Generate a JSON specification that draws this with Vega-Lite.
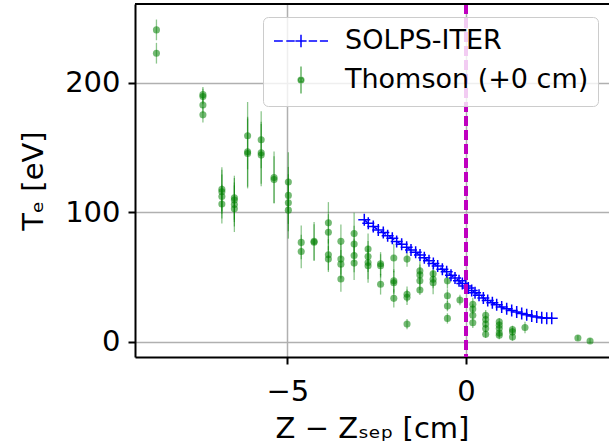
{
  "$schema": "https://vega.github.io/schema/vega-lite/v6.json",
  "width": 474,
  "height": 353,
  "autosize": {"type": "none"},
  "padding": {"left": 135, "top": 4, "right": 0, "bottom": 89},
  "background": "white",
  "config": {
    "view": {"stroke": null},
    "font": "DejaVu Sans",
    "axis": {
      "labelFont": "DejaVu Sans",
      "labelFontSize": 29,
      "labelColor": "black",
      "titleFont": "DejaVu Sans",
      "titleFontSize": 29,
      "titleFontWeight": "normal",
      "titleColor": "black",
      "domainColor": "black",
      "domainWidth": 2,
      "tickColor": "black",
      "tickWidth": 2,
      "tickSize": 7,
      "gridColor": "#b0b0b0",
      "gridWidth": 1.5,
      "gridOpacity": 1
    }
  },
  "data": {
    "values": [
      {"series": "Thomson (+0 cm)", "z": -8.66, "te": 241, "err": 8},
      {"series": "Thomson (+0 cm)", "z": -8.66, "te": 223, "err": 8},
      {"series": "Thomson (+0 cm)", "z": -7.36, "te": 191, "err": 6},
      {"series": "Thomson (+0 cm)", "z": -7.36, "te": 189.6, "err": 6},
      {"series": "Thomson (+0 cm)", "z": -7.36, "te": 183, "err": 6},
      {"series": "Thomson (+0 cm)", "z": -7.36, "te": 175.4, "err": 6},
      {"series": "Thomson (+0 cm)", "z": -6.83, "te": 118, "err": 17},
      {"series": "Thomson (+0 cm)", "z": -6.83, "te": 116, "err": 17},
      {"series": "Thomson (+0 cm)", "z": -6.83, "te": 112.4, "err": 17},
      {"series": "Thomson (+0 cm)", "z": -6.83, "te": 106.5, "err": 15},
      {"series": "Thomson (+0 cm)", "z": -6.48, "te": 111.4, "err": 17},
      {"series": "Thomson (+0 cm)", "z": -6.48, "te": 109.6, "err": 17},
      {"series": "Thomson (+0 cm)", "z": -6.48, "te": 106.2, "err": 17},
      {"series": "Thomson (+0 cm)", "z": -6.48, "te": 102.9, "err": 18},
      {"series": "Thomson (+0 cm)", "z": -6.11, "te": 159.3, "err": 26},
      {"series": "Thomson (+0 cm)", "z": -6.11, "te": 146.9, "err": 27},
      {"series": "Thomson (+0 cm)", "z": -6.11, "te": 145.6, "err": 27},
      {"series": "Thomson (+0 cm)", "z": -5.73, "te": 156.2, "err": 22},
      {"series": "Thomson (+0 cm)", "z": -5.73, "te": 146.1, "err": 24},
      {"series": "Thomson (+0 cm)", "z": -5.73, "te": 144.3, "err": 24},
      {"series": "Thomson (+0 cm)", "z": -5.37, "te": 127, "err": 20},
      {"series": "Thomson (+0 cm)", "z": -5.37, "te": 125.4, "err": 18},
      {"series": "Thomson (+0 cm)", "z": -4.97, "te": 123.5, "err": 23},
      {"series": "Thomson (+0 cm)", "z": -4.97, "te": 113.2, "err": 22},
      {"series": "Thomson (+0 cm)", "z": -4.97, "te": 107.5, "err": 22},
      {"series": "Thomson (+0 cm)", "z": -4.97, "te": 101.8, "err": 22},
      {"series": "Thomson (+0 cm)", "z": -4.61, "te": 76.9, "err": 13},
      {"series": "Thomson (+0 cm)", "z": -4.61, "te": 69.9, "err": 13},
      {"series": "Thomson (+0 cm)", "z": -4.25, "te": 77.7, "err": 15},
      {"series": "Thomson (+0 cm)", "z": -4.25, "te": 77.0, "err": 14},
      {"series": "Thomson (+0 cm)", "z": -3.85, "te": 92, "err": 16},
      {"series": "Thomson (+0 cm)", "z": -3.85, "te": 84.7, "err": 14},
      {"series": "Thomson (+0 cm)", "z": -3.85, "te": 67.4, "err": 12},
      {"series": "Thomson (+0 cm)", "z": -3.85, "te": 64, "err": 10},
      {"series": "Thomson (+0 cm)", "z": -3.5, "te": 77.7, "err": 13},
      {"series": "Thomson (+0 cm)", "z": -3.5, "te": 64, "err": 12},
      {"series": "Thomson (+0 cm)", "z": -3.5, "te": 60.1, "err": 11},
      {"series": "Thomson (+0 cm)", "z": -3.5, "te": 48.7, "err": 10},
      {"series": "Thomson (+0 cm)", "z": -3.13, "te": 83.7, "err": 16},
      {"series": "Thomson (+0 cm)", "z": -3.13, "te": 75.7, "err": 14},
      {"series": "Thomson (+0 cm)", "z": -3.13, "te": 66.8, "err": 13},
      {"series": "Thomson (+0 cm)", "z": -3.13, "te": 60.9, "err": 13},
      {"series": "Thomson (+0 cm)", "z": -2.74, "te": 71.8, "err": 12},
      {"series": "Thomson (+0 cm)", "z": -2.74, "te": 66, "err": 12},
      {"series": "Thomson (+0 cm)", "z": -2.74, "te": 61.4, "err": 13},
      {"series": "Thomson (+0 cm)", "z": -2.74, "te": 58.8, "err": 13},
      {"series": "Thomson (+0 cm)", "z": -2.39, "te": 60.4, "err": 9},
      {"series": "Thomson (+0 cm)", "z": -2.39, "te": 58.8, "err": 9},
      {"series": "Thomson (+0 cm)", "z": -2.39, "te": 44.6, "err": 8},
      {"series": "Thomson (+0 cm)", "z": -2.02, "te": 64.8, "err": 11},
      {"series": "Thomson (+0 cm)", "z": -2.02, "te": 47.2, "err": 9},
      {"series": "Thomson (+0 cm)", "z": -2.02, "te": 45.8, "err": 9},
      {"series": "Thomson (+0 cm)", "z": -2.02, "te": 33.7, "err": 7},
      {"series": "Thomson (+0 cm)", "z": -1.65, "te": 64, "err": 6},
      {"series": "Thomson (+0 cm)", "z": -1.65, "te": 36.8, "err": 6},
      {"series": "Thomson (+0 cm)", "z": -1.65, "te": 34.5, "err": 6},
      {"series": "Thomson (+0 cm)", "z": -1.65, "te": 13.8, "err": 4},
      {"series": "Thomson (+0 cm)", "z": -1.29, "te": 54.9, "err": 10},
      {"series": "Thomson (+0 cm)", "z": -1.29, "te": 51.8, "err": 8},
      {"series": "Thomson (+0 cm)", "z": -1.29, "te": 47.2, "err": 7},
      {"series": "Thomson (+0 cm)", "z": -1.29, "te": 40.2, "err": 4},
      {"series": "Thomson (+0 cm)", "z": -0.92, "te": 52.6, "err": 5},
      {"series": "Thomson (+0 cm)", "z": -0.92, "te": 48.5, "err": 7},
      {"series": "Thomson (+0 cm)", "z": -0.92, "te": 45.8, "err": 9},
      {"series": "Thomson (+0 cm)", "z": -0.52, "te": 47.2, "err": 6},
      {"series": "Thomson (+0 cm)", "z": -0.52, "te": 35.7, "err": 5},
      {"series": "Thomson (+0 cm)", "z": -0.52, "te": 27.7, "err": 4},
      {"series": "Thomson (+0 cm)", "z": -0.52, "te": 18.2, "err": 4},
      {"series": "Thomson (+0 cm)", "z": -0.17, "te": 32.4, "err": 4},
      {"series": "Thomson (+0 cm)", "z": 0.19, "te": 29.1, "err": 5},
      {"series": "Thomson (+0 cm)", "z": 0.19, "te": 25.4, "err": 4},
      {"series": "Thomson (+0 cm)", "z": 0.19, "te": 20.7, "err": 4},
      {"series": "Thomson (+0 cm)", "z": 0.19, "te": 14.8, "err": 4},
      {"series": "Thomson (+0 cm)", "z": 0.55, "te": 20.7, "err": 4},
      {"series": "Thomson (+0 cm)", "z": 0.55, "te": 17.4, "err": 3},
      {"series": "Thomson (+0 cm)", "z": 0.55, "te": 13.8, "err": 3},
      {"series": "Thomson (+0 cm)", "z": 0.55, "te": 10.4, "err": 3},
      {"series": "Thomson (+0 cm)", "z": 0.55, "te": 6, "err": 3},
      {"series": "Thomson (+0 cm)", "z": 0.93, "te": 15.5, "err": 3},
      {"series": "Thomson (+0 cm)", "z": 0.93, "te": 13, "err": 3},
      {"series": "Thomson (+0 cm)", "z": 0.93, "te": 10.4, "err": 3},
      {"series": "Thomson (+0 cm)", "z": 0.93, "te": 7, "err": 3},
      {"series": "Thomson (+0 cm)", "z": 0.93, "te": 5.2, "err": 3},
      {"series": "Thomson (+0 cm)", "z": 1.3, "te": 9.6, "err": 3},
      {"series": "Thomson (+0 cm)", "z": 1.3, "te": 7.8, "err": 3},
      {"series": "Thomson (+0 cm)", "z": 1.3, "te": 3.9, "err": 3},
      {"series": "Thomson (+0 cm)", "z": 1.65, "te": 11.2, "err": 4.5},
      {"series": "Thomson (+0 cm)", "z": 3.13, "te": 3.1, "err": 2},
      {"series": "Thomson (+0 cm)", "z": 3.47, "te": 0.8, "err": 2},
      {"series": "SOLPS-ITER", "z": -2.846, "te": 94.3},
      {"series": "SOLPS-ITER", "z": -2.734, "te": 91.7},
      {"series": "SOLPS-ITER", "z": -2.594, "te": 89.1},
      {"series": "SOLPS-ITER", "z": -2.454, "te": 86.5},
      {"series": "SOLPS-ITER", "z": -2.314, "te": 84.5},
      {"series": "SOLPS-ITER", "z": -2.192, "te": 82.1},
      {"series": "SOLPS-ITER", "z": -2.062, "te": 80.1},
      {"series": "SOLPS-ITER", "z": -1.94, "te": 77.5},
      {"series": "SOLPS-ITER", "z": -1.8, "te": 75.4},
      {"series": "SOLPS-ITER", "z": -1.661, "te": 73.1},
      {"series": "SOLPS-ITER", "z": -1.539, "te": 71.0},
      {"series": "SOLPS-ITER", "z": -1.409, "te": 69.2},
      {"series": "SOLPS-ITER", "z": -1.287, "te": 67.1},
      {"series": "SOLPS-ITER", "z": -1.166, "te": 65.0},
      {"series": "SOLPS-ITER", "z": -1.036, "te": 62.7},
      {"series": "SOLPS-ITER", "z": -0.914, "te": 60.6},
      {"series": "SOLPS-ITER", "z": -0.793, "te": 58.6},
      {"series": "SOLPS-ITER", "z": -0.662, "te": 56.2},
      {"series": "SOLPS-ITER", "z": -0.541, "te": 54.2},
      {"series": "SOLPS-ITER", "z": -0.42, "te": 51.6},
      {"series": "SOLPS-ITER", "z": -0.308, "te": 49.5},
      {"series": "SOLPS-ITER", "z": -0.196, "te": 47.2},
      {"series": "SOLPS-ITER", "z": -0.103, "te": 45.1},
      {"series": "SOLPS-ITER", "z": -0.009, "te": 43.3},
      {"series": "SOLPS-ITER", "z": 0.065, "te": 41.7},
      {"series": "SOLPS-ITER", "z": 0.159, "te": 39.7},
      {"series": "SOLPS-ITER", "z": 0.252, "te": 38.1},
      {"series": "SOLPS-ITER", "z": 0.364, "te": 36.0},
      {"series": "SOLPS-ITER", "z": 0.485, "te": 34.0},
      {"series": "SOLPS-ITER", "z": 0.607, "te": 32.1},
      {"series": "SOLPS-ITER", "z": 0.737, "te": 30.3},
      {"series": "SOLPS-ITER", "z": 0.858, "te": 28.8},
      {"series": "SOLPS-ITER", "z": 0.998, "te": 27.0},
      {"series": "SOLPS-ITER", "z": 1.138, "te": 25.7},
      {"series": "SOLPS-ITER", "z": 1.278, "te": 24.4},
      {"series": "SOLPS-ITER", "z": 1.418, "te": 23.1},
      {"series": "SOLPS-ITER", "z": 1.558, "te": 22.0},
      {"series": "SOLPS-ITER", "z": 1.698, "te": 21.0},
      {"series": "SOLPS-ITER", "z": 1.838, "te": 20.0},
      {"series": "SOLPS-ITER", "z": 1.978, "te": 19.2},
      {"series": "SOLPS-ITER", "z": 2.118, "te": 18.7},
      {"series": "SOLPS-ITER", "z": 2.258, "te": 18.4},
      {"series": "SOLPS-ITER", "z": 2.398, "te": 18.4}
    ]
  },
  "layer": [
    {
      "transform": [{"filter": "datum.series === 'Thomson (+0 cm)'"}],
      "mark": {"type": "point", "filled": true, "opacity": 0},
      "encoding": {
        "x": {
          "field": "z", "type": "quantitative",
          "scale": {"domain": [-9.26, 4.0], "nice": false, "zero": false},
          "axis": {"values": [-5, 0], "title": "Z − Zₛₑₚ [cm]", "labelPadding": 13, "titlePadding": 8, "grid": true}
        },
        "y": {
          "field": "te", "type": "quantitative",
          "scale": {"domain": [-11.6, 261], "nice": false, "zero": false},
          "axis": {"values": [0, 100, 200], "title": "Tₑ [eV]", "labelPadding": 8, "titlePadding": 16, "grid": true}
        }
      }
    },
    {
      "transform": [{"filter": "datum.series === 'Thomson (+0 cm)'"}],
      "mark": {"type": "errorbar", "color": "#008000", "opacity": 0.45, "thickness": 1.3, "clip": true},
      "encoding": {
        "x": {"field": "z", "type": "quantitative", "title": "Z − Zₛₑₚ [cm]"},
        "y": {"field": "te", "type": "quantitative", "title": "Tₑ [eV]"},
        "yError": {"field": "err"}
      }
    },
    {
      "transform": [{"filter": "datum.series === 'Thomson (+0 cm)'"}],
      "mark": {"type": "point", "filled": true, "shape": "circle", "size": 50, "color": "#008000", "opacity": 0.55, "clip": true},
      "encoding": {
        "x": {"field": "z", "type": "quantitative"},
        "y": {"field": "te", "type": "quantitative"}
      }
    },
    {
      "transform": [{"filter": "datum.series === 'SOLPS-ITER'"}],
      "mark": {"type": "line", "color": "#0000ff", "strokeWidth": 1.5, "strokeDash": [6, 4], "clip": true},
      "encoding": {
        "x": {"field": "z", "type": "quantitative"},
        "y": {"field": "te", "type": "quantitative"}
      }
    },
    {
      "transform": [{"filter": "datum.series === 'SOLPS-ITER'"}],
      "mark": {"type": "point", "filled": false, "shape": "M-1,0H1M0,-1V1", "size": 144, "color": "#0000ff", "strokeWidth": 1.5, "opacity": 1, "clip": true},
      "encoding": {
        "x": {"field": "z", "type": "quantitative"},
        "y": {"field": "te", "type": "quantitative"}
      }
    },
    {
      "mark": {"type": "rule", "color": "#bf00bf", "strokeWidth": 2.5, "strokeDash": [10, 4]},
      "encoding": {"x": {"datum": 0}}
    },
    {
      "mark": {"type": "rule", "color": "black", "strokeWidth": 2},
      "encoding": {"y": {"datum": 261}}
    },
    {
      "mark": {"type": "point", "filled": true, "opacity": 0},
      "encoding": {
        "x": {"field": "z", "type": "quantitative"},
        "y": {"field": "te", "type": "quantitative"},
        "color": {
          "field": "series", "type": "nominal",
          "scale": {"domain": ["SOLPS-ITER", "Thomson (+0 cm)"], "range": ["#0000ff", "rgba(0,128,0,0.6)"]},
          "legend": {
            "title": null,
            "orient": "none",
            "legendX": 128,
            "legendY": 13,
            "symbolSize": 784,
            "symbolOffset": 14,
            "labelOffset": 29,
            "symbolStrokeWidth": 1.5,
            "symbolOpacity": 1,
            "labelFont": "DejaVu Sans",
            "labelFontSize": 27,
            "labelColor": "black",
            "labelLimit": 400,
            "padding": 9,
            "rowPadding": 9,
            "fillColor": "rgba(255,255,255,0.8)",
            "strokeColor": "#cccccc",
            "cornerRadius": 5,
            "encode": {
              "symbols": {
                "update": {
                  "fill": {"scale": "color", "field": "value"},
                  "stroke": {"scale": "color", "field": "value"},
                  "opacity": {"value": 1}
                }
              }
            }
          }
        },
        "shape": {
          "field": "series", "type": "nominal",
          "scale": {
            "domain": ["SOLPS-ITER", "Thomson (+0 cm)"],
            "range": [
              "M-1.93,0H-1.3M-1.05,0H-0.45M-0.4,0H0.4M0.55,0H1.15M1.35,0H1.93M0,-0.44V0.44",
              "M0,-0.96V0.96M-0.2,0A0.2,0.2 0 1,0 0.2,0A0.2,0.2 0 1,0 -0.2,0Z"
            ]
          }
        }
      }
    }
  ]
}
